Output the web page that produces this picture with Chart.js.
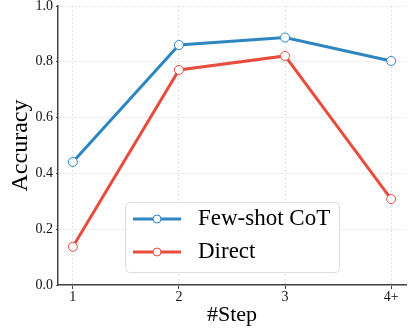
<!DOCTYPE html>
<html><head><meta charset="utf-8">
<script src="https://cdn.jsdelivr.net/npm/chart.js@4/dist/chart.umd.min.js"></script>
<style>html,body{margin:0;padding:0;background:#fff}#wrap{width:415px;height:332px}</style>
</head><body><div id="wrap"><canvas id="c" width="415" height="332"></canvas></div>
<script>
const categories = ["1", "2", "3", "4+"];
const fewShotCoT = [0.441, 0.860, 0.887, 0.803];
const direct = [0.137, 0.771, 0.821, 0.308];
const yTicks = [0.0, 0.2, 0.4, 0.6, 0.8, 1.0];
const seriesNames = ["Few-shot CoT", "Direct"];
const colors = ["#2e86c1", "#e84c3d"];

const FONT = "'Liberation Serif', 'Times New Roman', serif";
const toPts = arr => arr.map((v, i) => ({x: i, y: v}));

const legendPlugin = {
  id: 'boxLegend',
  afterDraw(chart) {
    const ctx = chart.ctx;
    const x0 = 125, y0 = 202, w = 214, h = 70;
    ctx.save();
    ctx.fillStyle = 'rgba(255,255,255,0.85)';
    ctx.strokeStyle = '#dddddd';
    ctx.lineWidth = 1;
    ctx.beginPath();
    ctx.roundRect(x0 + 0.5, y0 + 0.5, w, h, 4);
    ctx.fill(); ctx.stroke();
    chart.data.datasets.forEach((ds, i) => {
      const yy = 219 + i * 33;
      ctx.strokeStyle = ds.borderColor;
      ctx.lineWidth = 3;
      ctx.beginPath(); ctx.moveTo(133, yy); ctx.lineTo(181, yy); ctx.stroke();
      ctx.fillStyle = '#fff';
      ctx.lineWidth = 1;
      ctx.beginPath(); ctx.arc(157, yy, 4, 0, Math.PI * 2); ctx.fill(); ctx.stroke();
      ctx.fillStyle = '#000';
      ctx.font = "23px " + FONT;
      ctx.textBaseline = 'middle';
      ctx.textAlign = 'left';
      ctx.fillText(ds.label, 198, yy);
    });
    ctx.restore();
  }
};

new Chart(document.getElementById('c'), {
  type: 'line',
  data: {
    datasets: [
      {label: seriesNames[0], data: toPts(fewShotCoT), borderColor: colors[0], backgroundColor: '#fff',
       borderWidth: 3, pointRadius: 4.5, pointBorderWidth: 1, pointBackgroundColor: '#fff', pointBorderColor: colors[0], tension: 0, clip: false},
      {label: seriesNames[1], data: toPts(direct), borderColor: colors[1], backgroundColor: '#fff',
       borderWidth: 3, pointRadius: 4.5, pointBorderWidth: 1, pointBackgroundColor: '#fff', pointBorderColor: colors[1], tension: 0, clip: false}
    ]
  },
  options: {
    responsive: false,
    animation: false,
    layout: {padding: {top: 6, right: 9, left: 2, bottom: 0}},
    plugins: {legend: {display: false}, tooltip: {enabled: false}},
    scales: {
      x: {
        type: 'linear', min: -0.14, max: 3.14,
        afterBuildTicks: s => { s.ticks = categories.map((c, i) => ({value: i})); },
        afterFit: s => { s.height = 47; s.paddingLeft = 0; s.paddingRight = 0; },
        ticks: {callback: v => categories[v] ?? '', color: '#111', font: {family: FONT, size: 14}, padding: 0, maxRotation: 0},
        grid: {color: '#e2e2e2', lineWidth: 1, drawTicks: true, tickLength: 4, tickColor: '#444'},
        border: {color: '#444', width: 1.5, dash: [2, 2], dashOffset: 0},
        title: {display: true, text: '#Step', color: '#000', font: {family: FONT, size: 22}, padding: {top: 0}}
      },
      y: {
        min: 0, max: 1,
        afterBuildTicks: s => { s.ticks = yTicks.map(v => ({value: v})); },
        afterFit: s => { s.width = 56; s.paddingTop = 0; s.paddingBottom = 0; },
        ticks: {callback: v => v.toFixed(1), color: '#111', font: {family: FONT, size: 14}, padding: 3},
        grid: {color: '#e2e2e2', lineWidth: 1, drawTicks: true, tickLength: 2, tickColor: '#444'},
        border: {color: '#444', width: 1.5, dash: [2, 2]},
        title: {display: true, text: 'Accuracy', color: '#000', font: {family: FONT, size: 24}, padding: {bottom: 0}}
      }
    }
  },
  plugins: [legendPlugin]
});
</script></body></html>
